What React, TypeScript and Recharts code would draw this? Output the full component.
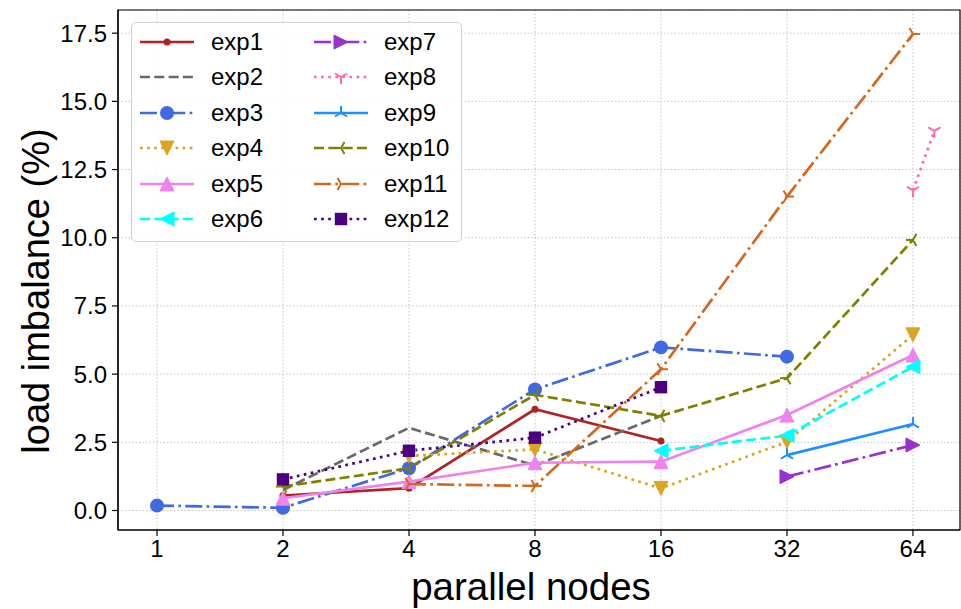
import React from 'react';
import { LineChart, Line, XAxis, YAxis, CartesianGrid, Legend, ReferenceArea } from 'recharts';

// x ticks (parallel nodes) and y ticks (load imbalance %)
const nodeTicks = [1, 2, 4, 8, 16, 32, 64];
const imbalanceTicks = [0, 2.5, 5, 7.5, 10, 12.5, 15, 17.5];

const exp1Nodes = [2, 4, 8, 16];
const exp1Values = [0.55, 0.82, 3.71, 2.55];
const exp2Nodes = [2, 4, 8, 16];
const exp2Values = [0.75, 3.03, 1.65, 3.47];
const exp3Nodes = [1, 2, 4, 8, 16, 32];
const exp3Values = [0.18, 0.1, 1.55, 4.44, 5.98, 5.64];
const exp4Nodes = [4, 8, 16, 32, 64];
const exp4Values = [2.0, 2.24, 0.81, 2.52, 6.44];
const exp5Nodes = [2, 4, 8, 16, 32, 64];
const exp5Values = [0.45, 1.06, 1.75, 1.79, 3.5, 5.7];
const exp6Nodes = [16, 32, 64];
const exp6Values = [2.19, 2.75, 5.27];
const exp7Nodes = [32, 64];
const exp7Values = [1.24, 2.4];
const exp8Nodes = [64, 72];
const exp8Values = [11.74, 13.92];
const exp9Nodes = [32, 64];
const exp9Values = [2.03, 3.17];
const exp10Nodes = [2, 4, 8, 16, 32, 64];
const exp10Values = [0.88, 1.55, 4.24, 3.47, 4.85, 9.92];
const exp11Nodes = [4, 8, 16, 32, 64];
const exp11Values = [0.97, 0.9, 5.18, 11.51, 17.47];
const exp12Nodes = [2, 4, 8, 16];
const exp12Values = [1.14, 2.19, 2.67, 4.52];

const FONT = '"Liberation Sans", Arial, sans-serif';
const LW = 2.7;
const DASH = { solid: undefined, dashed: '10 4.3', dotted: '2.7 4.4', dashdot: '17 4.3 2.7 4.3' } as const;

type Kind = 'point' | 'none' | 'o' | 'v' | '^' | '<' | '>' | 's' | '1' | '2' | '3' | '4';

const zip = (xs: number[], ys: number[]) => xs.map((x, i) => ({ x, y: ys[i] }));

const series = [
  { name: 'exp1', data: zip(exp1Nodes, exp1Values), color: '#b22222', dash: DASH.solid, marker: 'point' as Kind },
  { name: 'exp2', data: zip(exp2Nodes, exp2Values), color: '#696969', dash: DASH.dashed, marker: 'none' as Kind },
  { name: 'exp3', data: zip(exp3Nodes, exp3Values), color: '#4169e1', dash: DASH.dashdot, marker: 'o' as Kind },
  { name: 'exp4', data: zip(exp4Nodes, exp4Values), color: '#daa520', dash: DASH.dotted, marker: 'v' as Kind },
  { name: 'exp5', data: zip(exp5Nodes, exp5Values), color: '#ee82ee', dash: DASH.solid, marker: '^' as Kind },
  { name: 'exp6', data: zip(exp6Nodes, exp6Values), color: '#00ffff', dash: DASH.dashed, marker: '<' as Kind },
  { name: 'exp7', data: zip(exp7Nodes, exp7Values), color: '#9932cc', dash: DASH.dashdot, marker: '>' as Kind },
  { name: 'exp8', data: zip(exp8Nodes, exp8Values), color: '#ff69b4', dash: DASH.dotted, marker: '1' as Kind },
  { name: 'exp9', data: zip(exp9Nodes, exp9Values), color: '#1e90ff', dash: DASH.solid, marker: '2' as Kind },
  { name: 'exp10', data: zip(exp10Nodes, exp10Values), color: '#808000', dash: DASH.dashed, marker: '3' as Kind },
  { name: 'exp11', data: zip(exp11Nodes, exp11Values), color: '#d2691e', dash: DASH.dashdot, marker: '4' as Kind },
  { name: 'exp12', data: zip(exp12Nodes, exp12Values), color: '#4b0082', dash: DASH.dotted, marker: 's' as Kind },
];

function Marker({ kind, color, cx, cy }: { kind: Kind; color: string; cx: number; cy: number }) {
  const s = 7;
  const tri = (pts: number[][]) => (
    <polygon points={pts.map(([dx, dy]) => `${cx + dx},${cy + dy}`).join(' ')} fill={color} stroke={color} strokeWidth={1} />
  );
  const spokes = (angles: number[]) => (
    <g stroke={color} strokeWidth={2}>
      {angles.map((a) => (
        <line key={a} x1={cx} y1={cy} x2={cx + s * Math.cos((a * Math.PI) / 180)} y2={cy - s * Math.sin((a * Math.PI) / 180)} />
      ))}
    </g>
  );
  switch (kind) {
    case 'point':
      return <circle cx={cx} cy={cy} r={3.5} fill={color} />;
    case 'o':
      return <circle cx={cx} cy={cy} r={7} fill={color} />;
    case 'v':
      return tri([[0, s], [-s, -s], [s, -s]]);
    case '^':
      return tri([[0, -s], [-s, s], [s, s]]);
    case '<':
      return tri([[-s, 0], [s, -s], [s, s]]);
    case '>':
      return tri([[s, 0], [-s, -s], [-s, s]]);
    case 's':
      return <rect x={cx - 6.2} y={cy - 6.2} width={12.4} height={12.4} fill={color} />;
    case '1':
      return spokes([270, 30, 150]);
    case '2':
      return spokes([90, 210, 330]);
    case '3':
      return spokes([180, 60, 300]);
    case '4':
      return spokes([0, 120, 240]);
    default:
      return <g />;
  }
}

const renderDot = (kind: Kind, color: string, name: string) => (props: any) => {
  const { cx, cy, index } = props;
  if (kind === 'none' || cx == null || cy == null) return <g key={`${name}-${index}`} />;
  return (
    <g key={`${name}-${index}`}>
      <Marker kind={kind} color={color} cx={cx} cy={cy} />
    </g>
  );
};

const LegendBox = () => (
  <div
    style={{
      position: 'relative',
      width: 331,
      height: 220,
      boxSizing: 'border-box',
      border: '1px solid #d0d0d0',
      borderRadius: 5,
      background: 'rgba(255,255,255,0.85)',
      fontFamily: FONT,
      fontSize: 24,
      color: '#000',
    }}
  >
    {series.map((s, i) => {
      const col = i < 6 ? 0 : 1;
      const row = i % 6;
      const top = 19 + row * 35.4;
      const hx = col === 0 ? 8 : 182;
      const tx = col === 0 ? 79 : 252;
      return (
        <React.Fragment key={s.name}>
          <svg style={{ position: 'absolute', left: hx, top: top - 10 }} width={54} height={20}>
            <line x1={0} y1={10} x2={54} y2={10} stroke={s.color} strokeWidth={LW} strokeDasharray={s.dash} />
            <Marker kind={s.marker} color={s.color} cx={27} cy={10} />
          </svg>
          <div style={{ position: 'absolute', left: tx, top: top - 14, lineHeight: '28px', whiteSpace: 'nowrap' }}>{s.name}</div>
        </React.Fragment>
      );
    })}
  </div>
);

export default function App() {
  return (
    <div style={{ position: 'absolute', left: 0, top: 0, width: 961, height: 609, background: '#fff' }}>
      <LineChart width={961} height={609} margin={{ top: 10, right: 1, bottom: 0, left: 0 }}>
        <CartesianGrid stroke="#c4c4c4" strokeDasharray="1.5 2" strokeWidth={1} />
        <XAxis
          dataKey="x"
          type="number"
          scale="log"
          domain={[0.8069, 82.9]}
          allowDataOverflow
          ticks={nodeTicks}
          height={79}
          tickSize={6}
          tickMargin={4}
          stroke="#000"
          tick={{ fill: '#000', fontSize: 24, fontFamily: FONT }}
          tickLine={{ stroke: '#000', strokeWidth: 1.2 }}
          axisLine={{ stroke: '#000', strokeWidth: 1.2 }}
          label={{
            content: () => (
              <text x={531} y={600} textAnchor="middle" fontSize={38.5} fontFamily={FONT} fill="#000">
                parallel nodes
              </text>
            ),
          }}
        />
        <YAxis
          type="number"
          domain={[-0.715, 18.35]}
          allowDataOverflow
          ticks={imbalanceTicks}
          tickFormatter={(v: number) => v.toFixed(1)}
          width={118}
          tickSize={6}
          tickMargin={5}
          stroke="#000"
          tick={{ fill: '#000', fontSize: 24, fontFamily: FONT }}
          tickLine={{ stroke: '#000', strokeWidth: 1.2 }}
          axisLine={{ stroke: '#000', strokeWidth: 1.2 }}
          label={{
            content: () => (
              <text
                transform="translate(36,291) rotate(-90)"
                textAnchor="middle"
                dominantBaseline="central"
                fontSize={38}
                fontFamily={FONT}
                fill="#000"
              >
                load imbalance (%)
              </text>
            ),
          }}
        />
        {series.map((s) => (
          <Line
            key={s.name}
            data={s.data}
            dataKey="y"
            name={s.name}
            type="linear"
            stroke={s.color}
            strokeWidth={LW}
            strokeDasharray={s.dash}
            dot={renderDot(s.marker, s.color, s.name)}
            activeDot={false}
            isAnimationActive={false}
          />
        ))}
        <ReferenceArea
          x1={0.8069}
          x2={82.9}
          y1={-0.715}
          y2={18.35}
          fill="none"
          fillOpacity={0}
          stroke="#000"
          strokeWidth={1.2}
          ifOverflow="visible"
        />
        <Legend
          layout="vertical"
          verticalAlign="middle"
          align="center"
          wrapperStyle={{ left: 131, top: 22, width: 331, height: 220 }}
          content={() => <LegendBox />}
        />
      </LineChart>
    </div>
  );
}
